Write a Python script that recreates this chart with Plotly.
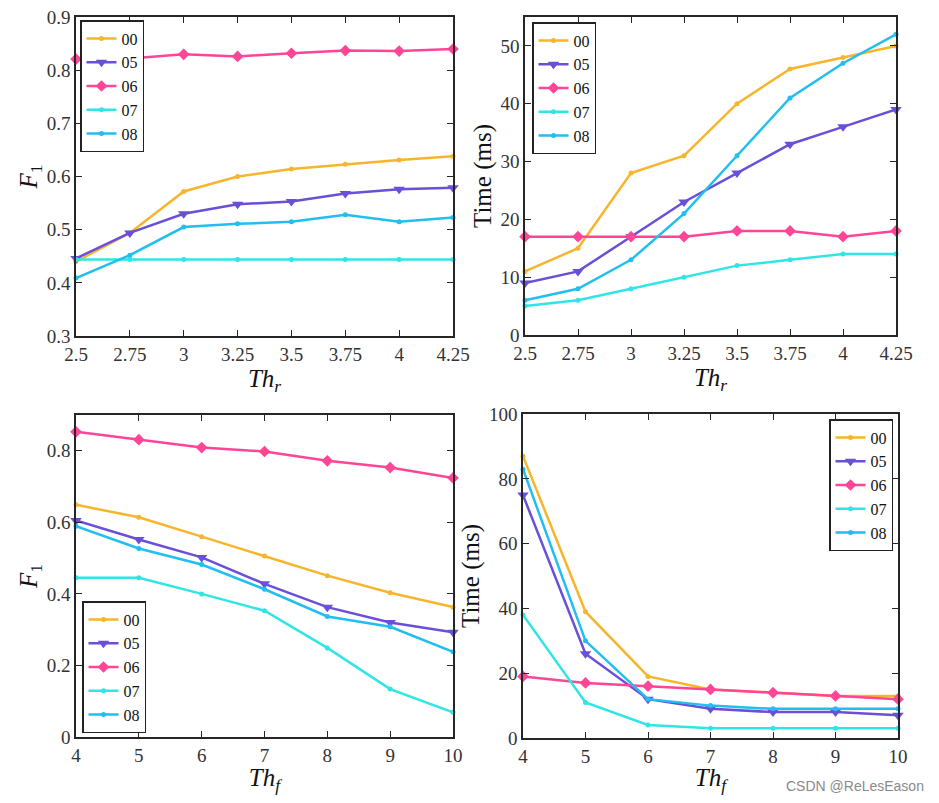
import plotly.graph_objects as go

# page is drawn with an 8px body margin; figure sized to fit inside the window
OFF = 8
W, H = 939 - 2 * OFF, 803 - 2 * OFF

series_names = ["00", "05", "06", "07", "08"]
colors = ["#F7B52C", "#6A4FD9", "#FF4596", "#2FE5E5", "#21BEF0"]
symbols = ["circle", "triangle-down", "diamond", "circle", "circle"]
msizes = [5, 10, 9, 5, 5]

th_r = [2.5, 2.75, 3, 3.25, 3.5, 3.75, 4, 4.25]
th_r_labels = ["2.5", "2.75", "3", "3.25", "3.5", "3.75", "4", "4.25"]
th_f = [4, 5, 6, 7, 8, 9, 10]

f1_r = {
    "00": [0.440, 0.494, 0.572, 0.600, 0.614, 0.623, 0.631, 0.638],
    "05": [0.446, 0.494, 0.530, 0.548, 0.553, 0.568, 0.576, 0.579],
    "06": [0.821, 0.822, 0.830, 0.826, 0.832, 0.837, 0.836, 0.840],
    "07": [0.444, 0.444, 0.444, 0.444, 0.444, 0.444, 0.444, 0.444],
    "08": [0.409, 0.452, 0.505, 0.511, 0.515, 0.528, 0.515, 0.523],
}
time_r = {
    "00": [11, 15, 28, 31, 40, 46, 48, 50],
    "05": [9, 11, 17, 23, 28, 33, 36, 39],
    "06": [17, 17, 17, 17, 18, 18, 17, 18],
    "07": [5, 6, 8, 10, 12, 13, 14, 14],
    "08": [6, 8, 13, 21, 31, 41, 47, 52],
}
f1_f = {
    "00": [0.649, 0.614, 0.560, 0.506, 0.451, 0.403, 0.363],
    "05": [0.605, 0.552, 0.502, 0.428, 0.363, 0.320, 0.293],
    "06": [0.853, 0.831, 0.809, 0.798, 0.772, 0.753, 0.724],
    "07": [0.445, 0.445, 0.400, 0.353, 0.249, 0.134, 0.069],
    "08": [0.589, 0.527, 0.482, 0.413, 0.337, 0.308, 0.238],
}
time_f = {
    "00": [87, 39, 19, 15, 14, 13, 13],
    "05": [75, 26, 12, 9, 8, 8, 7],
    "06": [19, 17, 16, 15, 14, 13, 12],
    "07": [38, 11, 4, 3, 3, 3, 3],
    "08": [83, 30, 12, 10, 9, 9, 9],
}

def px2x(p):
    return (p - OFF) / W

def py2y(p):
    return 1 - (p - OFF) / H

panels = [
    (th_r, f1_r, "x", "y", "legend", (76, 453, 17, 336)),
    (th_r, time_r, "x2", "y2", "legend2", (525, 896, 17, 335)),
    (th_f, f1_f, "x3", "y3", "legend3", (76, 453, 415, 737)),
    (th_f, time_f, "x4", "y4", "legend4", (523, 898, 414, 738)),
]

fig = go.Figure()
for xs, data, xa, ya, lg, box in panels:
    for i, name in enumerate(series_names):
        fig.add_trace(go.Scatter(
            x=xs, y=data[name], name=name, mode="lines+markers",
            line=dict(color=colors[i], width=2.5),
            marker=dict(symbol=symbols[i], size=msizes[i], color=colors[i]),
            xaxis=xa, yaxis=ya, legend=lg, showlegend=True, cliponaxis=False,
        ))

SERIF = "Times New Roman, Liberation Serif, DejaVu Serif, serif"
axis_color = "#262626"
tickfont = dict(family=SERIF, size=19, color="#333333")
common = dict(
    showline=True, linecolor=axis_color, linewidth=1.5, mirror="ticks",
    ticks="inside", ticklen=6, tickwidth=1.2, tickcolor=axis_color,
    showgrid=False, zeroline=False, tickfont=tickfont, automargin=False,
    ticklabeloverflow="allow",
)
title_font = dict(family=SERIF, size=25, color="#111111")

layout = dict(
    width=W, height=H, margin=dict(l=0, r=0, t=0, b=0),
    paper_bgcolor="white", plot_bgcolor="white", autosize=False,
)

names_x = ["xaxis", "xaxis2", "xaxis3", "xaxis4"]
names_y = ["yaxis", "yaxis2", "yaxis3", "yaxis4"]
for k, (xs, data, xa, ya, lg, (l, r, t, b)) in enumerate(panels):
    ax = dict(common)
    ax["domain"] = [px2x(l), px2x(r)]
    ax["anchor"] = ya
    if k < 2:
        ax["range"] = [2.5, 4.25]
        ax["tickvals"] = th_r
        ax["ticktext"] = th_r_labels
        ax["title"] = dict(text="<i>Th<sub>r</sub></i>", font=title_font, standoff=4)
    else:
        ax["range"] = [4, 10]
        ax["tickvals"] = th_f
        ax["title"] = dict(text="<i>Th<sub>f</sub></i>", font=title_font, standoff=4)
    layout[names_x[k]] = ax

    ay = dict(common)
    ay["domain"] = [py2y(b), py2y(t)]
    ay["anchor"] = xa
    if k == 0:
        ay["range"] = [0.3, 0.9002]
        ay["tickvals"] = [0.3, 0.4, 0.5, 0.6, 0.7, 0.8, 0.9]
        ay["ticktext"] = ["0.3", "0.4", "0.5", "0.6", "0.7", "0.8", "0.9"]
        ay["title"] = dict(text="<i>F</i><sub>1</sub>", font=title_font, standoff=2)
    elif k == 1:
        ay["range"] = [0, 55]
        ay["tickvals"] = [0, 10, 20, 30, 40, 50]
        ay["title"] = dict(text="Time (ms)", font=title_font, standoff=2)
    elif k == 2:
        ay["range"] = [0, 0.9]
        ay["tickvals"] = [0, 0.2, 0.4, 0.6, 0.8]
        ay["ticktext"] = ["0", "0.2", "0.4", "0.6", "0.8"]
        ay["title"] = dict(text="<i>F</i><sub>1</sub>", font=title_font, standoff=2)
    else:
        ay["range"] = [0, 100.05]
        ay["tickvals"] = [0, 20, 40, 60, 80, 100]
        ay["title"] = dict(text="Time (ms)", font=title_font, standoff=2)
    layout[names_y[k]] = ay

legend_common = dict(
    bgcolor="white", bordercolor="#222222", borderwidth=1.5,
    font=dict(family=SERIF, size=16, color="#111111"),
    itemwidth=30, tracegroupgap=0, traceorder="normal",
)
layout["legend"] = dict(legend_common, x=px2x(80), y=py2y(20), xanchor="left", yanchor="top")
layout["legend2"] = dict(legend_common, x=px2x(532), y=py2y(22), xanchor="left", yanchor="top")
layout["legend3"] = dict(legend_common, x=px2x(82), y=py2y(733), xanchor="left", yanchor="bottom")
layout["legend4"] = dict(legend_common, x=px2x(893), y=py2y(419), xanchor="right", yanchor="top")

layout["annotations"] = [dict(
    text="CSDN @ReLesEason", x=px2x(926), y=py2y(786), xref="paper", yref="paper",
    xanchor="right", yanchor="middle", showarrow=False,
    font=dict(family="Liberation Sans Narrow, Liberation Sans, sans-serif", size=14, color="#8a8a8a"),
)]

fig.update_layout(**layout)
fig.write_html("out.html")
